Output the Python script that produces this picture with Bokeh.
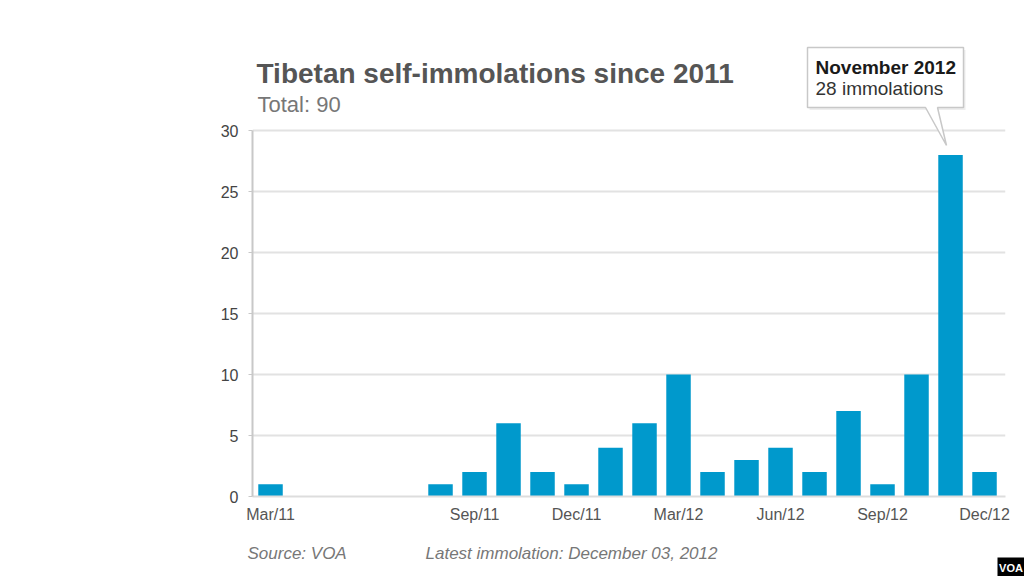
from bokeh.plotting import figure
from bokeh.models import Label, FixedTicker, ColumnDataSource
from bokeh.layouts import column
from bokeh.embed import file_html
from bokeh.resources import INLINE

# ---- data ----
months = ["Mar/11", "Apr/11", "May/11", "Jun/11", "Jul/11", "Aug/11", "Sep/11", "Oct/11",
          "Nov/11", "Dec/11", "Jan/12", "Feb/12", "Mar/12", "Apr/12", "May/12", "Jun/12",
          "Jul/12", "Aug/12", "Sep/12", "Oct/12", "Nov/12", "Dec/12"]
counts = [1, 0, 0, 0, 0, 1, 2, 6, 2, 1, 4, 6, 10, 2, 3, 4, 2, 7, 1, 10, 28, 2]
tick_labels = ["Mar/11", "Sep/11", "Dec/11", "Mar/12", "Jun/12", "Sep/12", "Dec/12"]
y_ticks = [0, 5, 10, 15, 20, 25, 30]

title_text = "Tibetan self-immolations since 2011"
subtitle_text = "Total: 90"
callout_title = "November 2012"
callout_text = "28 immolations"
source_text = "Source: VOA"
latest_text = "Latest immolation: December 03, 2012"

FONT = "Liberation Sans"
W = 1024
H_MAIN = 535
H_FOOT = 576 - H_MAIN
FL, FR, FT, FB = 252, 1005, 0, 496   # frame edges in px
X0 = -0.53
XS = 34.0
X1 = X0 + (FR - FL) / XS
YS = 12.2                              # px per unit
Y1 = (FB - FT) / YS

def px2x(page_x):
    return X0 + (page_x - FL) / XS

def px2y(page_y):
    return (FB - page_y) / YS

xs = list(range(len(months)))
src = ColumnDataSource(dict(x=xs, top=counts, m=months))

p = figure(width=W, height=H_MAIN, output_backend="svg", toolbar_location=None,
           x_range=(X0, X1), y_range=(0, Y1),
           min_border_left=FL, min_border_right=W - FR,
           min_border_top=FT, min_border_bottom=H_MAIN - FB)
p.frame_align = False
p.outline_line_color = None
p.background_fill_color = "white"
p.border_fill_color = "white"

p.vbar(x="x", top="top", width=0.72, bottom=0, source=src,
       fill_color="#0099CC", line_color=None)

# axes
p.yaxis.ticker = FixedTicker(ticks=y_ticks)
p.yaxis.bounds = (0, 30)
p.yaxis.axis_line_color = "#c8c8c8"
p.yaxis.axis_line_width = 2
p.yaxis.major_tick_line_color = "#c8c8c8"
p.yaxis.major_tick_out = 4
p.yaxis.major_tick_in = 0
p.yaxis.minor_tick_line_color = None
p.yaxis.major_label_text_font = FONT
p.yaxis.major_label_text_font_size = "16px"
p.yaxis.major_label_text_color = "#444444"
p.yaxis.major_label_standoff = 10

tick_pos = [months.index(t) for t in tick_labels]
p.xaxis.ticker = FixedTicker(ticks=tick_pos)
p.xaxis.major_label_overrides = {pos: lab for pos, lab in zip(tick_pos, tick_labels)}
p.xaxis.axis_line_color = "#dddddd"
p.xaxis.axis_line_width = 2
p.xaxis.major_tick_line_color = None
p.xaxis.major_tick_out = 0
p.xaxis.minor_tick_line_color = None
p.xaxis.major_label_text_font = FONT
p.xaxis.major_label_text_font_size = "16px"
p.xaxis.major_label_text_color = "#555555"
p.xaxis.major_label_standoff = 9

p.xgrid.grid_line_color = None
p.ygrid.ticker = FixedTicker(ticks=y_ticks[1:])
p.ygrid.grid_line_color = "#e2e2e2"
p.ygrid.grid_line_width = 2

# titles
p.add_layout(Label(x=px2x(256), y=px2y(73), text=title_text, text_font=FONT,
                   text_font_size="28px", text_font_style="bold", text_color="#555555",
                   text_baseline="middle", text_align="left"))
p.add_layout(Label(x=px2x(257), y=px2y(104), text=subtitle_text, text_font=FONT,
                   text_font_size="22px", text_color="#777777",
                   text_baseline="middle", text_align="left"))

# callout box with pointer
bx0, bx1 = px2x(807), px2x(963)
by0, by1 = px2y(107), px2y(47)
tip_x, tip_y = px2x(946), px2y(145)
p1x, p2x = px2x(925), px2x(937)
p.patch([bx0 + 0.06, bx1 + 0.06, bx1 + 0.06, bx0 + 0.06],
        [by1 - 0.2, by1 - 0.2, by0 - 0.2, by0 - 0.2],
        fill_color="#eeeeee", line_color=None)
p.patch([bx0, bx1, bx1, p2x, tip_x, p1x, bx0],
        [by1, by1, by0, by0, tip_y, by0, by0],
        fill_color="white", line_color="#c8c8c8", line_width=1.5)
p.add_layout(Label(x=px2x(815), y=px2y(67), text=callout_title, text_font=FONT,
                   text_font_size="19px", text_font_style="bold", text_color="#1a1a1a",
                   text_baseline="middle", text_align="left"))
p.add_layout(Label(x=px2x(815), y=px2y(88), text=callout_text, text_font=FONT,
                   text_font_size="19px", text_color="#333333",
                   text_baseline="middle", text_align="left"))

# ---- footer figure ----
f = figure(width=W, height=H_FOOT, output_backend="svg", toolbar_location=None,
           x_range=(0, W), y_range=(0, H_FOOT), x_axis_type=None, y_axis_type=None,
           min_border=0)
f.frame_align = False
f.min_border_left = f.min_border_right = f.min_border_top = f.min_border_bottom = 0
f.outline_line_color = None
f.xgrid.grid_line_color = None
f.ygrid.grid_line_color = None
f.border_fill_color = "white"

def fy(page_y):
    return 576 - page_y

f.add_layout(Label(x=247, y=fy(553), text=source_text, text_font=FONT,
                   text_font_size="17px", text_font_style="italic", text_color="#777777",
                   text_baseline="middle", text_align="left"))
f.add_layout(Label(x=425, y=fy(553), text=latest_text, text_font=FONT,
                   text_font_size="17px", text_font_style="italic", text_color="#777777",
                   text_baseline="middle", text_align="left"))
f.quad(left=[997], right=[1024], bottom=[fy(576)], top=[fy(557)],
       fill_color="black", line_color=None)
f.add_layout(Label(x=1010.5, y=fy(567), text="VOA", text_font=FONT,
                   text_font_size="11px", text_font_style="bold", text_color="white",
                   text_baseline="middle", text_align="center"))

layout = column(p, f, spacing=0)
open("out.html", "w").write(file_html(layout, INLINE))
